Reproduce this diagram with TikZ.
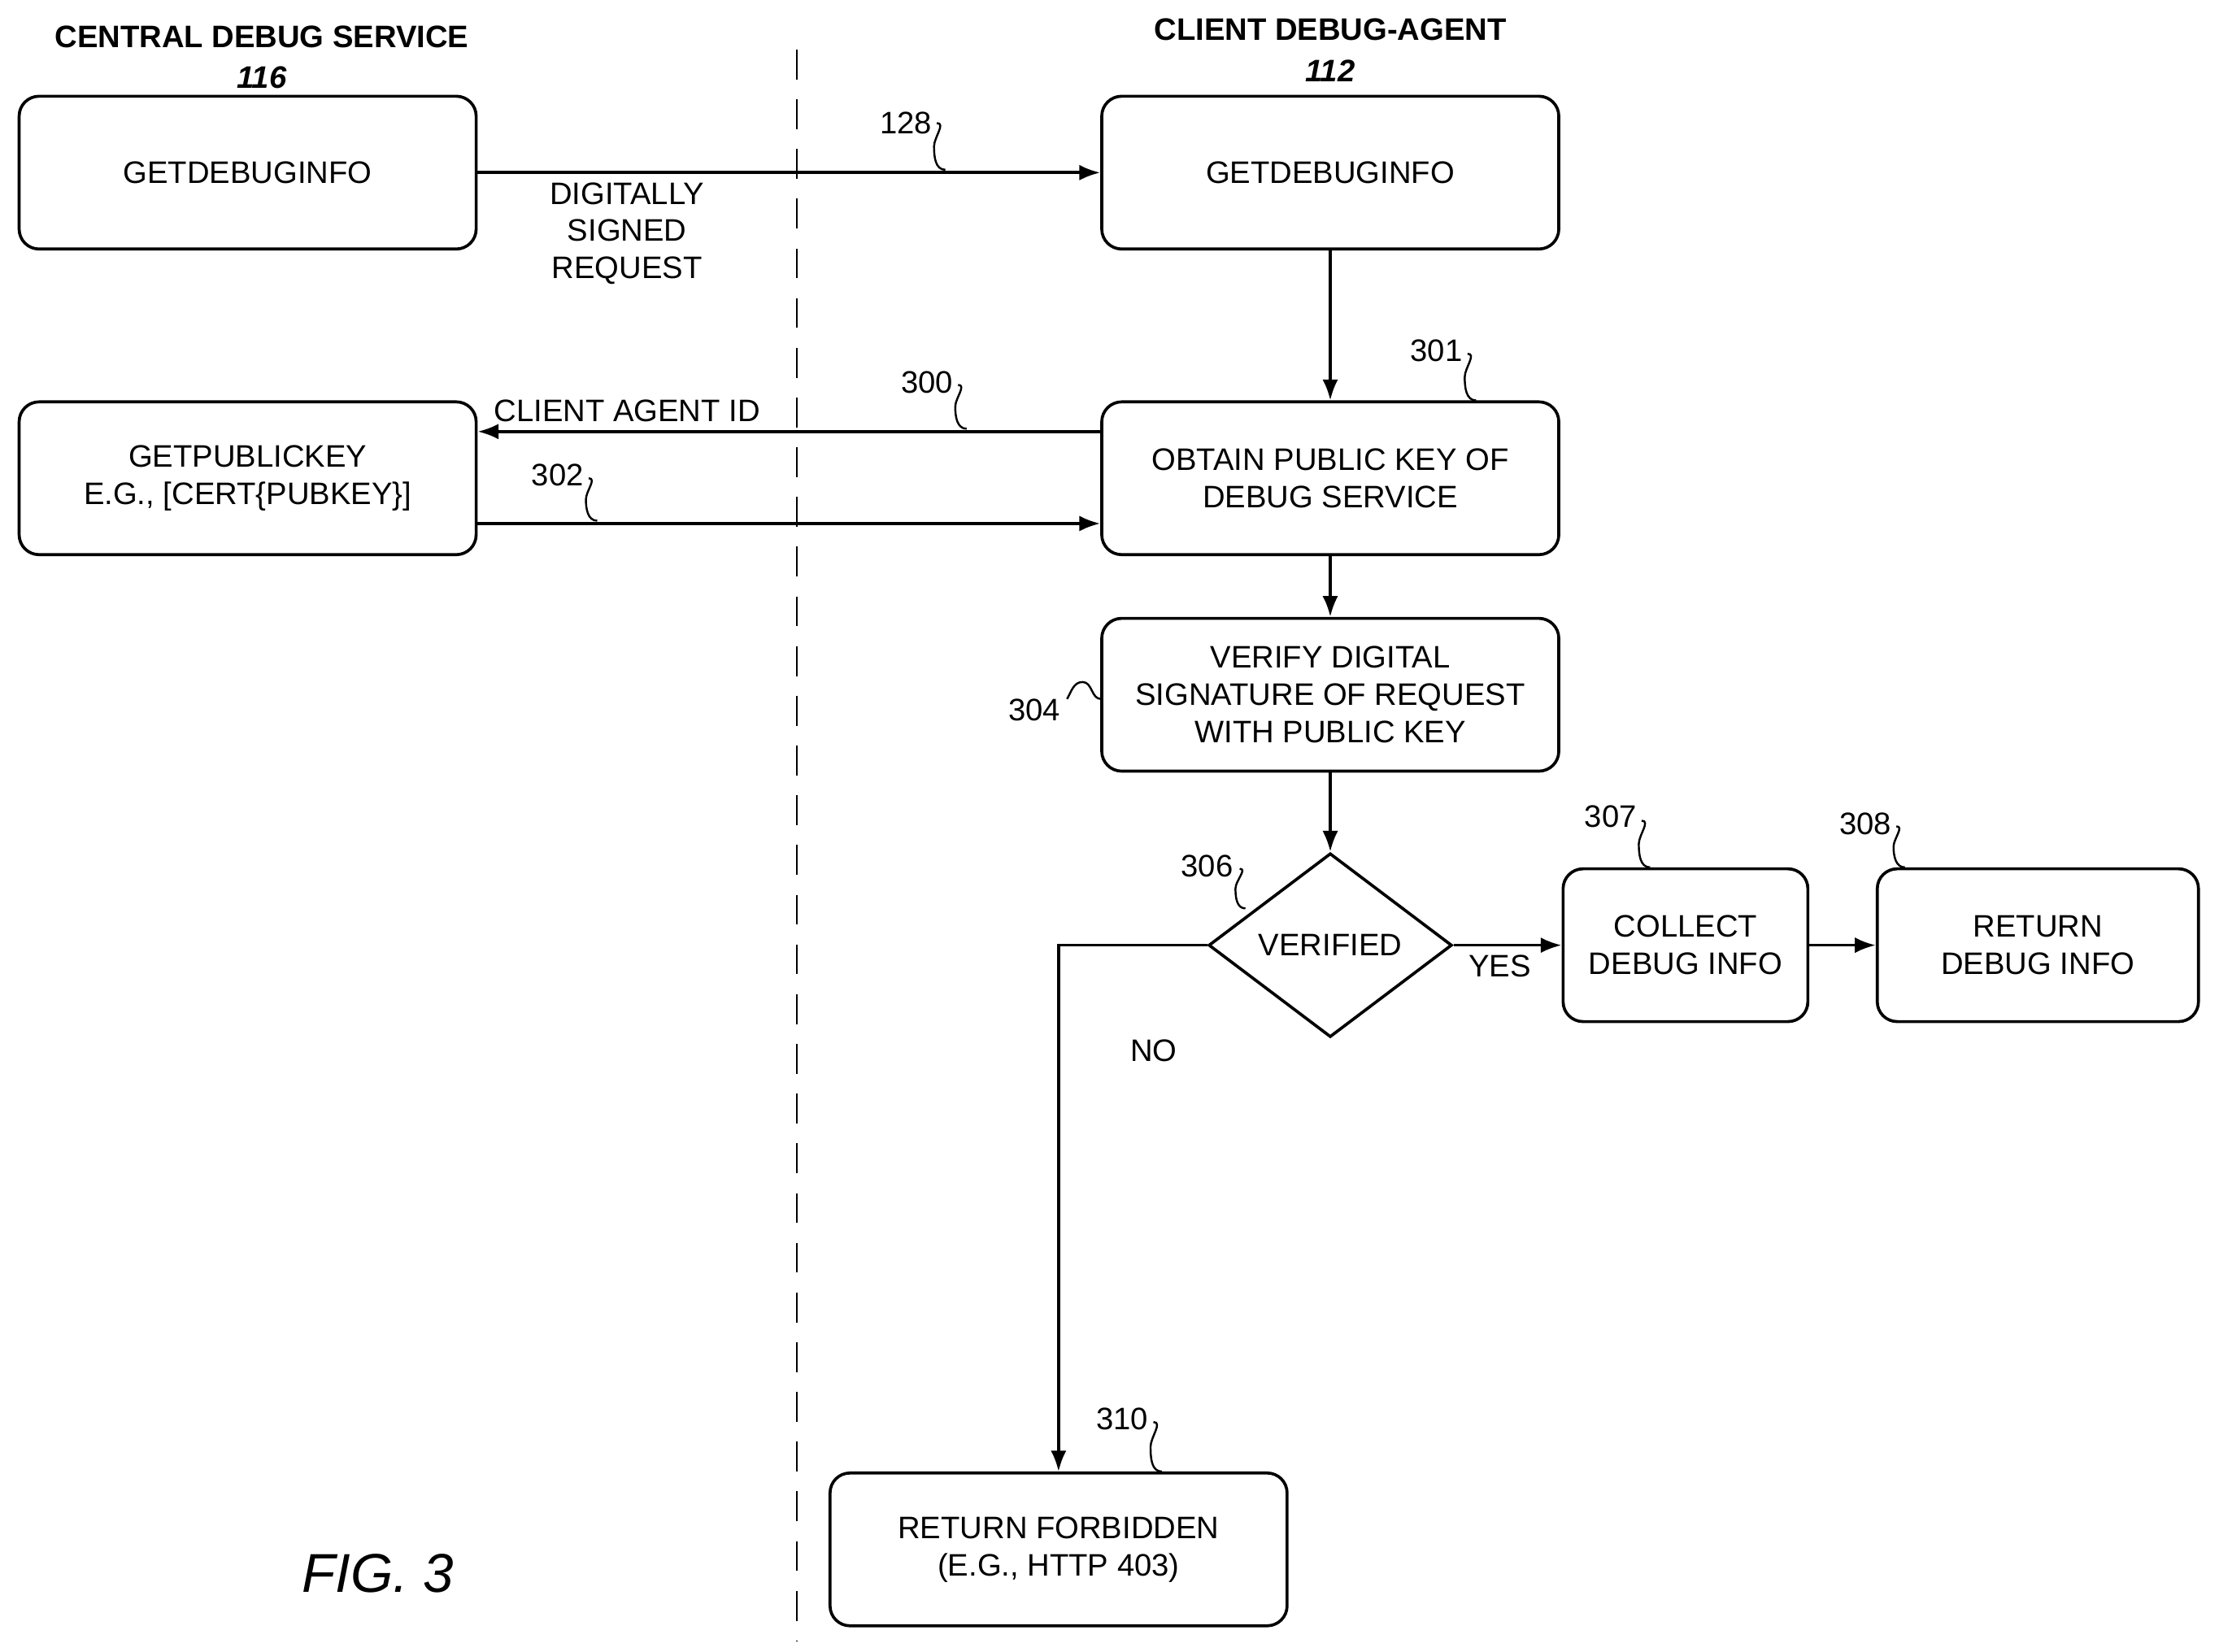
\documentclass[tikz,border=0pt]{standalone}
\usepackage{fontspec}
\setmainfont{Liberation Sans}
\usetikzlibrary{arrows.meta,shapes.geometric,calc}
\newcommand\refsquig[2]{\draw[thick] (#1) to[out=0,in=90] ($(#1)!0.5!(#2)+(-5,0)$) to[out=-90,in=180] (#2);}
\begin{document}
\begin{tikzpicture}[x=0.02cm, y=-0.02cm,
  every node/.style={font=\fontsize{12.5}{15}\selectfont},
  block/.style={draw, very thick, rounded corners=8pt, minimum width=6.46cm, minimum height=2.16cm, align=center},
  smallblock/.style={block, minimum width=3.46cm},
  decision/.style={draw, very thick, diamond, aspect=1.32, minimum width=3.44cm, minimum height=2.6cm, inner sep=0pt, align=center},
  >=Latex, line width=1.2pt
]
\useasboundingbox (0,0) rectangle (1568,1167.5);

% headers
\node[font=\bfseries\fontsize{12.5}{15}\selectfont] (hcds) at (185,26) {CENTRAL DEBUG SERVICE};
\node[font=\bfseries\itshape\fontsize{12.5}{15}\selectfont] (h116) at (185,55) {116};
\node[font=\bfseries\fontsize{12.5}{15}\selectfont] (hcda) at (940,21) {CLIENT DEBUG-AGENT};
\node[font=\bfseries\itshape\fontsize{12.5}{15}\selectfont] (h112) at (940,50) {112};
\draw[dashed, thick, dash pattern=on 12pt off 8pt] (563,35) -- (563,1160);

% Nodes
\node[block] (getinfoL) at (175,122) {GETDEBUGINFO};
\node[block] (getinfoR) at (940,122) {GETDEBUGINFO};
\node[block] (getkey) at (175,338) {GETPUBLICKEY\\E.G., [CERT\{PUBKEY\}]};
\node[block] (obtain) at (940,338) {OBTAIN PUBLIC KEY OF\\DEBUG SERVICE};
\node[block] (verify) at (940,491) {VERIFY DIGITAL\\SIGNATURE OF REQUEST\\WITH PUBLIC KEY};
\node[decision] (verified) at (940,668) {VERIFIED};
\node[smallblock] (collect) at (1191,668) {COLLECT\\DEBUG INFO};
\node[block, minimum width=4.54cm] (retinfo) at (1440,668) {RETURN\\DEBUG INFO};
\node[block] (forbid) at (748,1095) {RETURN FORBIDDEN\\(E.G., HTTP 403)};
\node[font=\itshape\fontsize{22}{26}\selectfont] (fig) at (267,1112) {FIG. 3};

% Connections
\draw[->] (getinfoL) -- node[below, align=center, pos=0.24]{DIGITALLY\\SIGNED\\REQUEST} (getinfoR);
\draw[->] (getinfoR) -- (obtain);
\draw[->] (obtain.west |- 0,305) -- node[above, pos=0.76]{CLIENT AGENT ID} (getkey.east |- 0,305);
\draw[->] (getkey.east |- 0,370) -- (obtain.west |- 0,370);
\draw[->] (obtain) -- (verify);
\draw[->] (verify) -- (verified);
\draw[->] (verified) -- node[below right, pos=0.05]{YES} (collect);
\draw[->] (collect) -- (retinfo);
\draw[->] (verified.west) -| node[pos=0.6, right=25pt]{NO} (forbid.north);

% Reference numerals
\node (n128) at (640,87) {128}; \refsquig{662,87}{668,120}
\node (n301) at (1015,248) {301}; \refsquig{1037,250}{1043,283}
\node (n300) at (655,270) {300}; \refsquig{677,272}{683,303}
\node (n302) at (394,336) {302}; \refsquig{416,338}{422,368}
\node (n304) at (731,502) {304};
\draw[thick] (754,494) to[out=60,in=180] (765,482) to[out=0,in=180] (778,494);
\node (n306) at (853,612) {306}; \refsquig{876,614}{880,642}
\node (n307) at (1138,577) {307}; \refsquig{1160,580}{1166,613}
\node (n308) at (1318,582) {308}; \refsquig{1340,584}{1346,613}
\node (n310) at (793,1003) {310}; \refsquig{815,1005}{821,1040}
\end{tikzpicture}
\end{document}
